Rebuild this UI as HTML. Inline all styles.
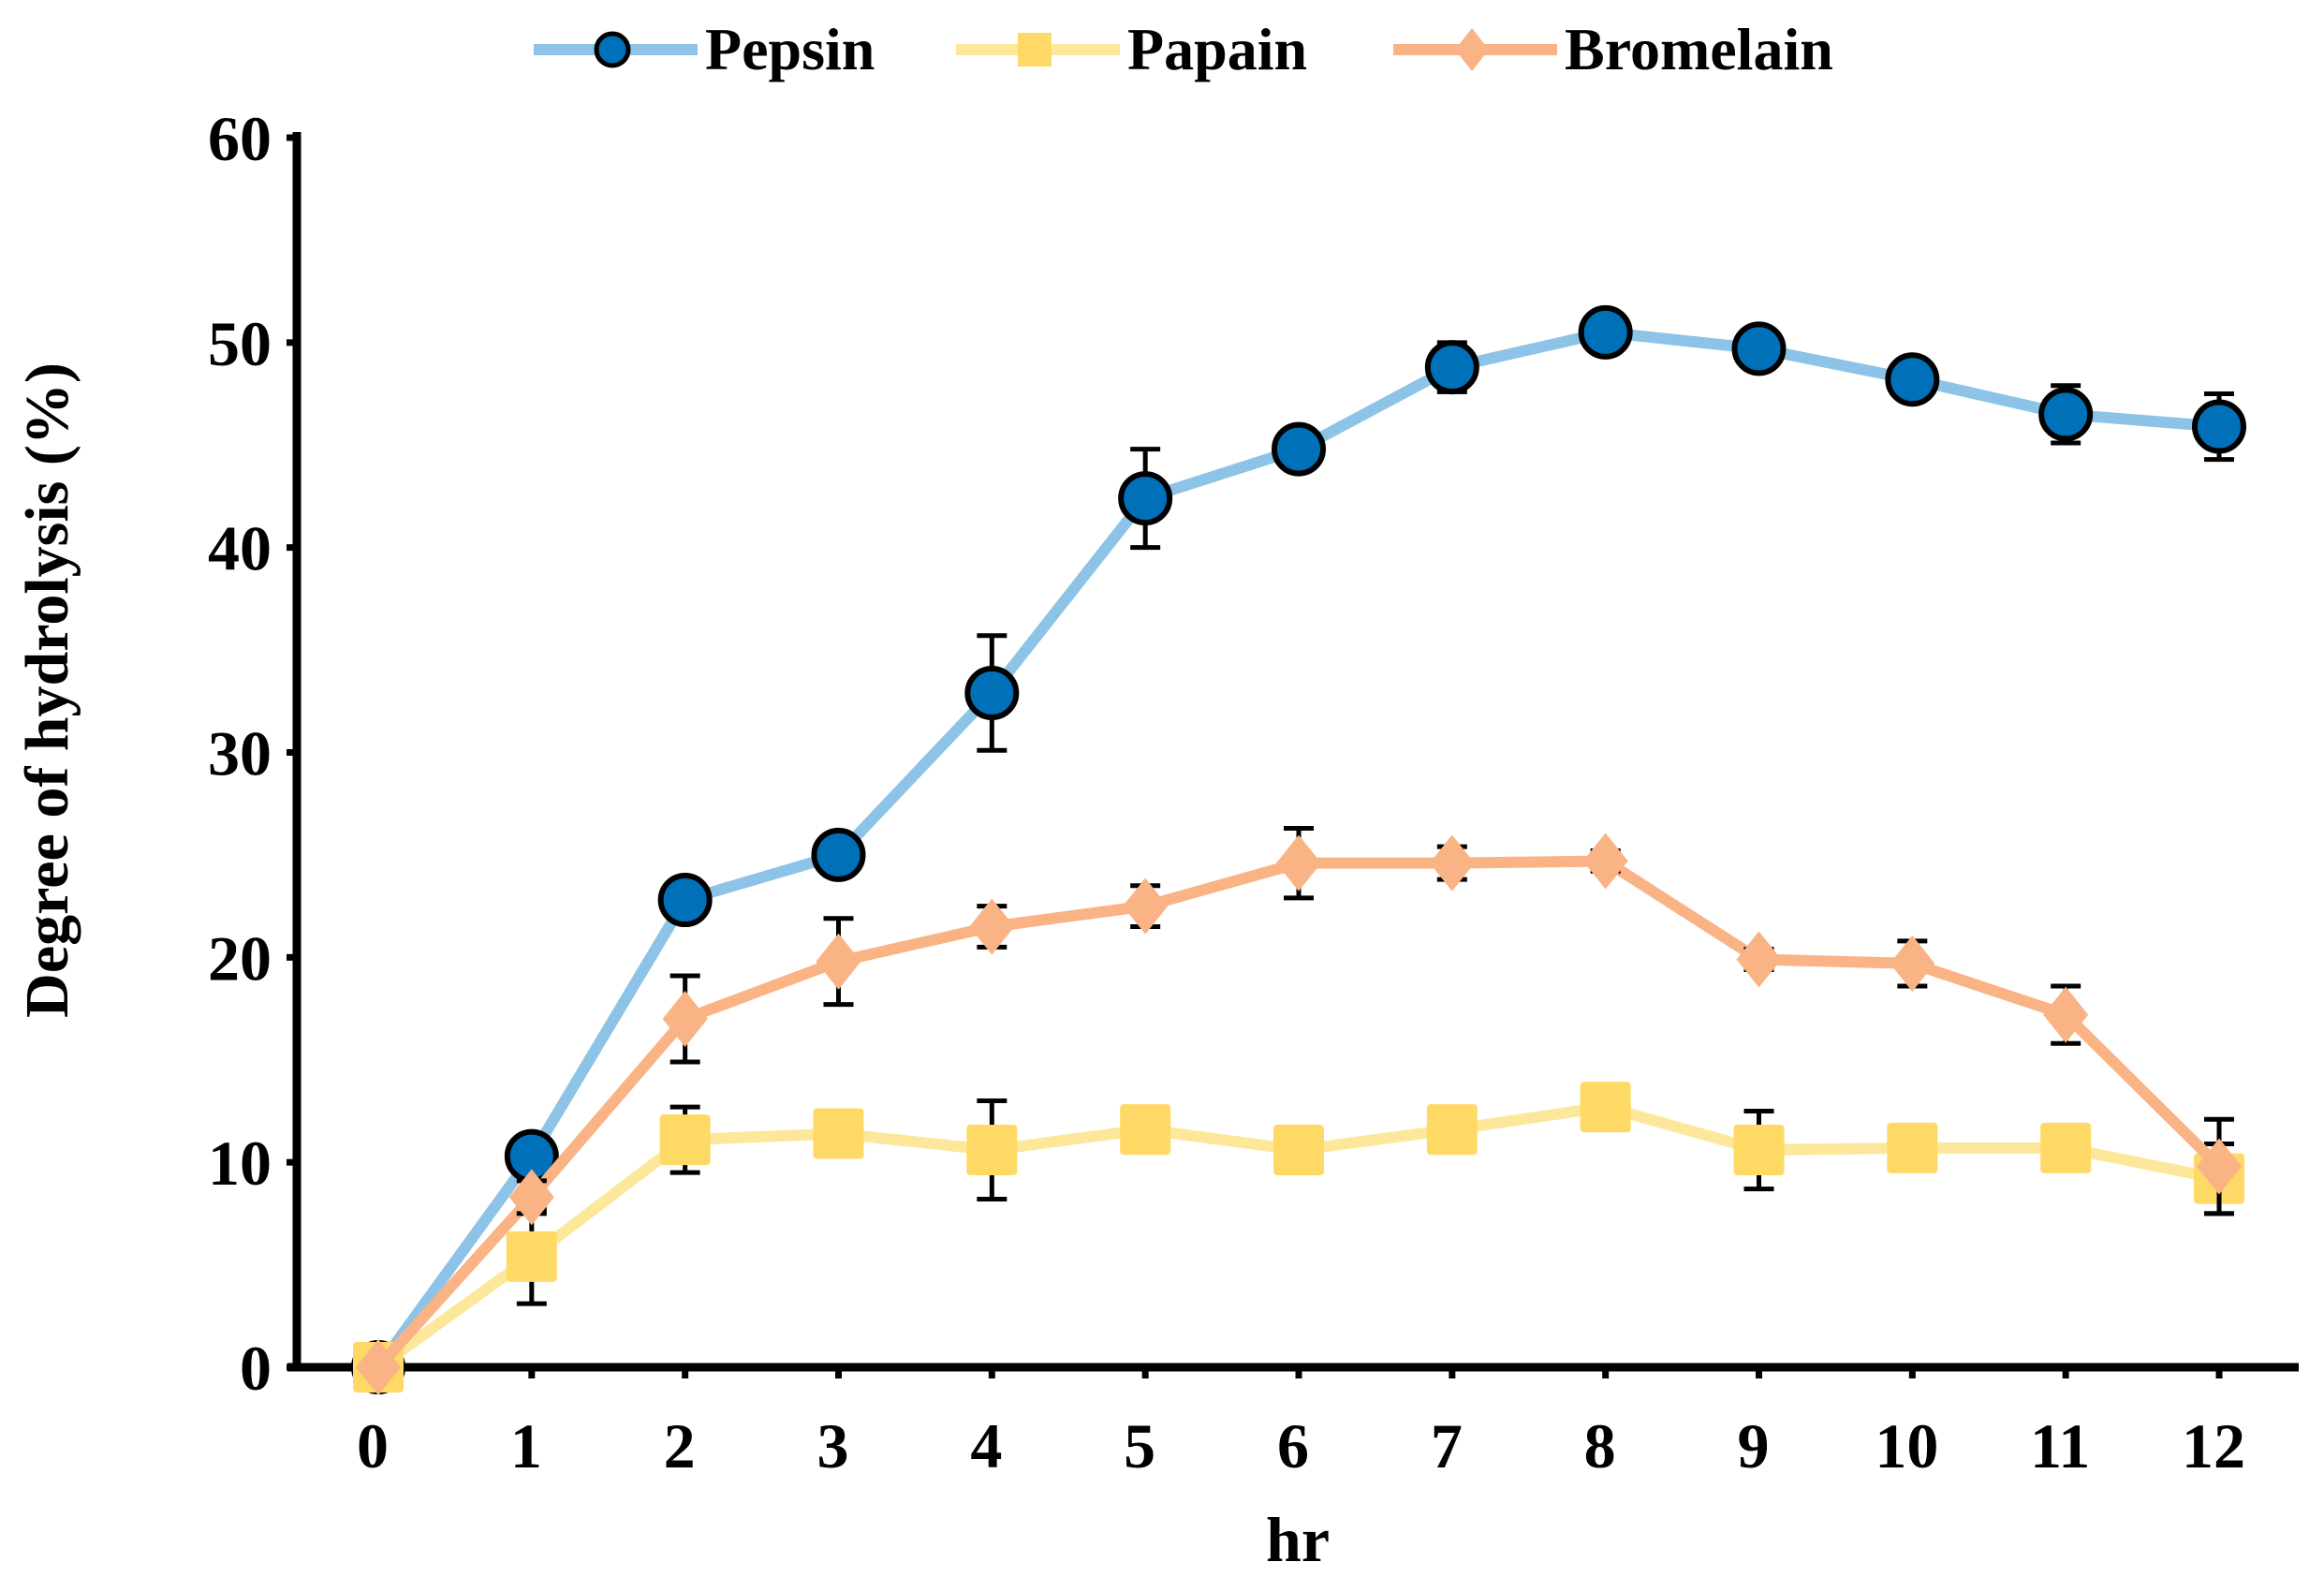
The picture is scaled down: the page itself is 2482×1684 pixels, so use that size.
<!DOCTYPE html>
<html><head><meta charset="utf-8"><style>
html,body{margin:0;padding:0;background:#fff}
svg{display:block}
text{font-family:"Liberation Serif",serif;font-weight:bold;fill:#000}
</style></head><body>
<svg id="chart" width="2482" height="1684" viewBox="0 0 2482 1684" xmlns="http://www.w3.org/2000/svg"></svg>
<script>
const hours=[0,1,2,3,4,5,6,7,8,9,10,11,12];
const pepsin=[0,10.3,22.8,25,32.9,42.4,44.8,48.8,50.5,49.7,48.2,46.5,45.9];
const pepsinErr=[0,0.4,0.3,1,2.8,2.4,0.5,1.2,1,0.9,0.5,1.4,1.6];
const papain=[0,5.4,11.1,11.4,10.6,11.6,10.6,11.6,12.7,10.6,10.7,10.7,9.2];
const papainErr=[0,2.3,1.6,0.5,2.4,0.5,0.3,0.5,0.5,1.9,0.5,0.5,1.7];
const bromelain=[0,8.3,17,19.8,21.5,22.5,24.6,24.6,24.7,19.9,19.7,17.2,9.8];
const bromelainErr=[0,0.8,2.1,2.1,1,1,1.7,0.8,0.5,0.5,1.1,1.4,2.3];
const yTicks=[0,10,20,30,40,50,60];

const svg=document.getElementById('chart');
const NS='http://www.w3.org/2000/svg';
const X0=404,X1=2370,Y0=1460,Y1=147;
const xs=h=>X0+(X1-X0)*h/12;
const ys=v=>Y0-(Y0-Y1)*v/60;
function mk(tag,attrs,parent){const e=document.createElementNS(NS,tag);for(const k in attrs)e.setAttribute(k,attrs[k]);(parent||svg).appendChild(e);return e;}

const ax=mk('g',{});


mk('line',{x1:317,y1:141,x2:317,y2:1464,stroke:'#000','stroke-width':9},ax);
mk('line',{x1:307,y1:1460,x2:2455,y2:1460,stroke:'#000','stroke-width':9},ax);
yTicks.forEach(v=>{
  mk('line',{x1:306,y1:ys(v),x2:317,y2:ys(v),stroke:'#000','stroke-width':7},ax);
  const t=mk('text',{x:290,y:ys(v)+24,'text-anchor':'end','font-size':68},ax);
  t.textContent=v;
  
  
});
hours.forEach(h=>{
  if(h>0) mk('line',{x1:xs(h),y1:1460,x2:xs(h),y2:1472,stroke:'#000','stroke-width':7},ax);
  const t=mk('text',{x:xs(h)-6,y:1567,'text-anchor':'middle','font-size':68},ax);
  t.textContent=h;
  
  
});
const yt=mk('text',{x:0,y:0,'text-anchor':'middle','font-size':66,transform:'translate(72,737) rotate(-90)'});
yt.textContent='Degree of hydrolysis (%)';


const xt=mk('text',{x:1386,y:1667,'text-anchor':'middle','font-size':68});
xt.textContent='hr';



function marker(g,type,x,y,fill){
  if(type==='circle') mk('circle',{cx:x,cy:y,r:26,fill:fill,stroke:'#000','stroke-width':6},g);
  else if(type==='square') mk('rect',{x:x-27,y:y-27,width:54,height:54,rx:4,fill:fill},g);
  else mk('polygon',{points:`${x},${y-30} ${x+24},${y} ${x},${y+30} ${x-24},${y}`,fill:fill},g);
}
function series(name,vals,errs,color,mfill,type){
  const g=mk('g',{});
  
  
  mk('polyline',{points:vals.map((v,i)=>xs(hours[i])+','+ys(v)).join(' '),fill:'none',stroke:color,'stroke-width':12,'stroke-linejoin':'round'},g);
  vals.forEach((v,i)=>{
    if(errs[i]>0){
      const x=xs(hours[i]),a=ys(v+errs[i]),b=ys(v-errs[i]);
      const eb=mk('path',{d:`M${x},${a}V${b}M${x-16},${a}H${x+16}M${x-16},${b}H${x+16}`,stroke:'#000','stroke-width':5,fill:'none'},g);
      
      
    }
  });
  vals.forEach((v,i)=>marker(g,type,xs(hours[i]),ys(v),mfill));
}
series('pepsin',pepsin,pepsinErr,'#8dc3e6','#0070b8','circle');
series('papain',papain,papainErr,'#fde79a','#ffd966','square');
series('bromelain',bromelain,bromelainErr,'#f9b384','#f9b384','diamond');

const lg=mk('g',{});


const items=[['Pepsin',570,'#8dc3e6','#0070b8','circle'],['Papain',1021,'#fde79a','#ffd966','square'],['Bromelain',1488,'#f9b384','#f9b384','diamond']];
items.forEach(it=>{
  const g=mk('g',{},lg);
  
  
  mk('line',{x1:it[1],y1:53,x2:it[1]+175,y2:53,stroke:it[2],'stroke-width':12},g);
  if(it[4]==='circle') mk('circle',{cx:it[1]+84,cy:53,r:17,fill:it[3],stroke:'#000','stroke-width':5},g);
  else if(it[4]==='square') mk('rect',{x:it[1]+66,y:35,width:36,height:36,fill:it[3]},g);
  else mk('polygon',{points:`${it[1]+84},30 ${it[1]+102},53 ${it[1]+84},76 ${it[1]+66},53`,fill:it[3]},g);
  const t=mk('text',{x:it[1]+183,y:74,'font-size':64},g);
  t.textContent=it[0];
});
</script>
</body></html>
